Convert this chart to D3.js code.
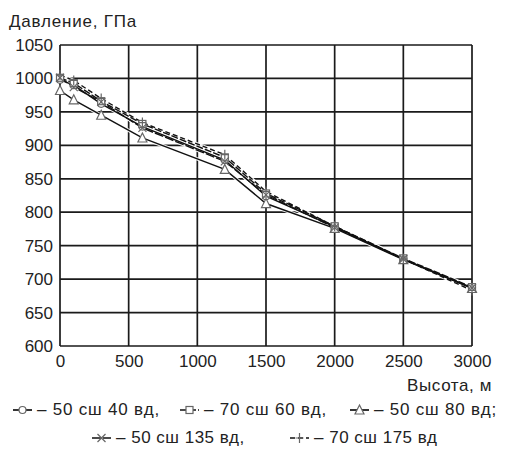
<!DOCTYPE html>
<html>
<head>
<meta charset="utf-8">
<script src="https://cdn.jsdelivr.net/npm/d3@7"></script>
<style>
  html, body { margin: 0; padding: 0; background: #fff; }
  svg { display: block; font-family: "Liberation Sans", Arial, sans-serif; }
</style>
</head>
<body>
<svg id="chart" width="520" height="457"></svg>
<script>
// Heights above ground, m
const heights = [0, 100, 300, 600, 1200, 1500, 2000, 2500, 3000];

// Pressure profiles by location
const p50n40e  = [998, 990, 962, 928, 878, 824, 778, 730, 687];
const p70n60e  = [1001, 993, 966, 932, 882, 828, 779, 731, 688];
const p50n80e  = [982, 968, 945, 911, 864, 813, 776, 729, 686];
const p50n135e = [1001, 987, 965, 926, 876, 826, 777, 730, 687];
const p70n175e = [1005, 997, 970, 934, 886, 831, 779, 730, 683];

const seriesNames = ["50 сш 40 вд,", "70 сш 60 вд,", "50 сш 80 вд;", "50 сш 135 вд,", "70 сш 175 вд"];
const seriesMarkers = ["circle", "square", "triangle", "cross", "plus"];

const xTicks = [0, 500, 1000, 1500, 2000, 2500, 3000];
const yTicks = [600, 650, 700, 750, 800, 850, 900, 950, 1000, 1050];

const yTitle = "Давление, ГПа";
const xTitle = "Высота, м";

const series = [p50n40e, p70n60e, p50n80e, p50n135e, p70n175e].map((vals, i) => ({
  name: seriesNames[i],
  marker: seriesMarkers[i],
  points: vals.map((v, j) => ({ h: heights[j], p: v }))
}));

const svg = d3.select("#chart");
const plotL = 60, plotR = 472, plotT = 45, plotB = 346;
const ink = "#222";

const x = d3.scaleLinear().domain([0, 3000]).range([plotL, plotR]);
const y = d3.scaleLinear().domain([600, 1050]).range([plotB, plotT]);

svg.append("rect").attr("width", 520).attr("height", 457).attr("fill", "#fff");

// Grid
const grid = svg.append("g").attr("stroke", "#1a1a1a").attr("stroke-width", 1.7);
grid.selectAll("line.v").data(xTicks).join("line").attr("class", "v")
  .attr("x1", d => x(d)).attr("x2", d => x(d))
  .attr("y1", plotT).attr("y2", plotB);
grid.selectAll("line.h").data(yTicks).join("line").attr("class", "h")
  .attr("x1", plotL).attr("x2", plotR)
  .attr("y1", d => y(d)).attr("y2", d => y(d));

// Axes (labels only; frame comes from the grid)
const xAxis = svg.append("g").attr("transform", `translate(0,${plotB})`)
  .call(d3.axisBottom(x).tickValues(xTicks).tickSize(0).tickPadding(9).tickFormat(d3.format("d")));
const yAxis = svg.append("g").attr("transform", `translate(${plotL},0)`)
  .call(d3.axisLeft(y).tickValues(yTicks).tickSize(0).tickPadding(7).tickFormat(d3.format("d")));
[xAxis, yAxis].forEach(a => {
  a.select(".domain").remove();
  a.selectAll("text").attr("font-size", 17).attr("fill", ink)
    .attr("font-family", "'Liberation Sans', Arial, sans-serif");
});

svg.append("text").attr("x", 9).attr("y", 27).attr("font-size", 17)
  .attr("letter-spacing", 0.8).attr("fill", ink).text(yTitle);
svg.append("text").attr("x", 492).attr("y", 391).attr("text-anchor", "end")
  .attr("font-size", 17).attr("letter-spacing", 0.6).attr("fill", ink).text(xTitle);

// Marker drawing
function drawMarker(g, type, cx, cy) {
  const s = 4;
  let el;
  if (type === "circle") el = g.append("circle").attr("cx", cx).attr("cy", cy).attr("r", s - 0.5);
  else if (type === "square") el = g.append("rect").attr("x", cx - s + 0.5).attr("y", cy - s + 0.5).attr("width", 2 * s - 1).attr("height", 2 * s - 1);
  else if (type === "triangle") el = g.append("path").attr("d", `M${cx},${cy - s - 1}L${cx + s + 0.5},${cy + s}L${cx - s - 0.5},${cy + s}Z`);
  else if (type === "cross") el = g.append("path").attr("d", `M${cx - s},${cy - s}L${cx + s},${cy + s}M${cx - s},${cy + s}L${cx + s},${cy - s}`);
  else el = g.append("path").attr("d", `M${cx},${cy - s - 1}L${cx},${cy + s + 1}M${cx - s},${cy}L${cx + s},${cy}`);
  el.attr("stroke", "#666").attr("stroke-width", 1.2)
    .attr("fill", (type === "cross" || type === "plus") ? "none" : "#fff");
}

const line = d3.line().x(d => x(d.h)).y(d => y(d.p));
const dashes = [null, "7,2", null, "9,2", "5,3"];

// White halo under the curves, then the curves
series.forEach(s => {
  svg.append("path").datum(s.points).attr("d", line)
    .attr("fill", "none").attr("stroke", "#fff").attr("stroke-width", 3.5).attr("opacity", 0.9);
});
series.forEach((s, i) => {
  svg.append("path").datum(s.points).attr("d", line)
    .attr("fill", "none").attr("stroke", "#111").attr("stroke-width", 1.4)
    .attr("stroke-dasharray", dashes[i]);
});
series.forEach(s => {
  const g = svg.append("g");
  s.points.forEach(d => drawMarker(g, s.marker, x(d.h), y(d.p)));
});

// Legend: two rows under the x-axis title
const legendItems = [
  { i: 0, sx: 13, ty: 415, ls: 0.8 },
  { i: 1, sx: 180, ty: 415, ls: 0.8 },
  { i: 2, sx: 350, ty: 415, ls: 0.8 },
  { i: 3, sx: 92, ty: 443, ls: 0.5 },
  { i: 4, sx: 290, ty: 443, ls: 0.5 }
];
legendItems.forEach(it => {
  const s = series[it.i];
  const g = svg.append("g");
  const cy = it.ty - 5;
  g.append("line").attr("x1", it.sx).attr("x2", it.sx + 19).attr("y1", cy).attr("y2", cy)
    .attr("stroke", "#111").attr("stroke-width", 1.7).attr("stroke-dasharray", dashes[it.i]);
  drawMarker(g, s.marker, it.sx + 9.5, cy);
  g.append("text").attr("x", it.sx + 24).attr("y", it.ty).attr("font-size", 17)
    .attr("letter-spacing", it.ls).attr("fill", ink)
    .text("– " + s.name);
});
</script>
</body>
</html>
